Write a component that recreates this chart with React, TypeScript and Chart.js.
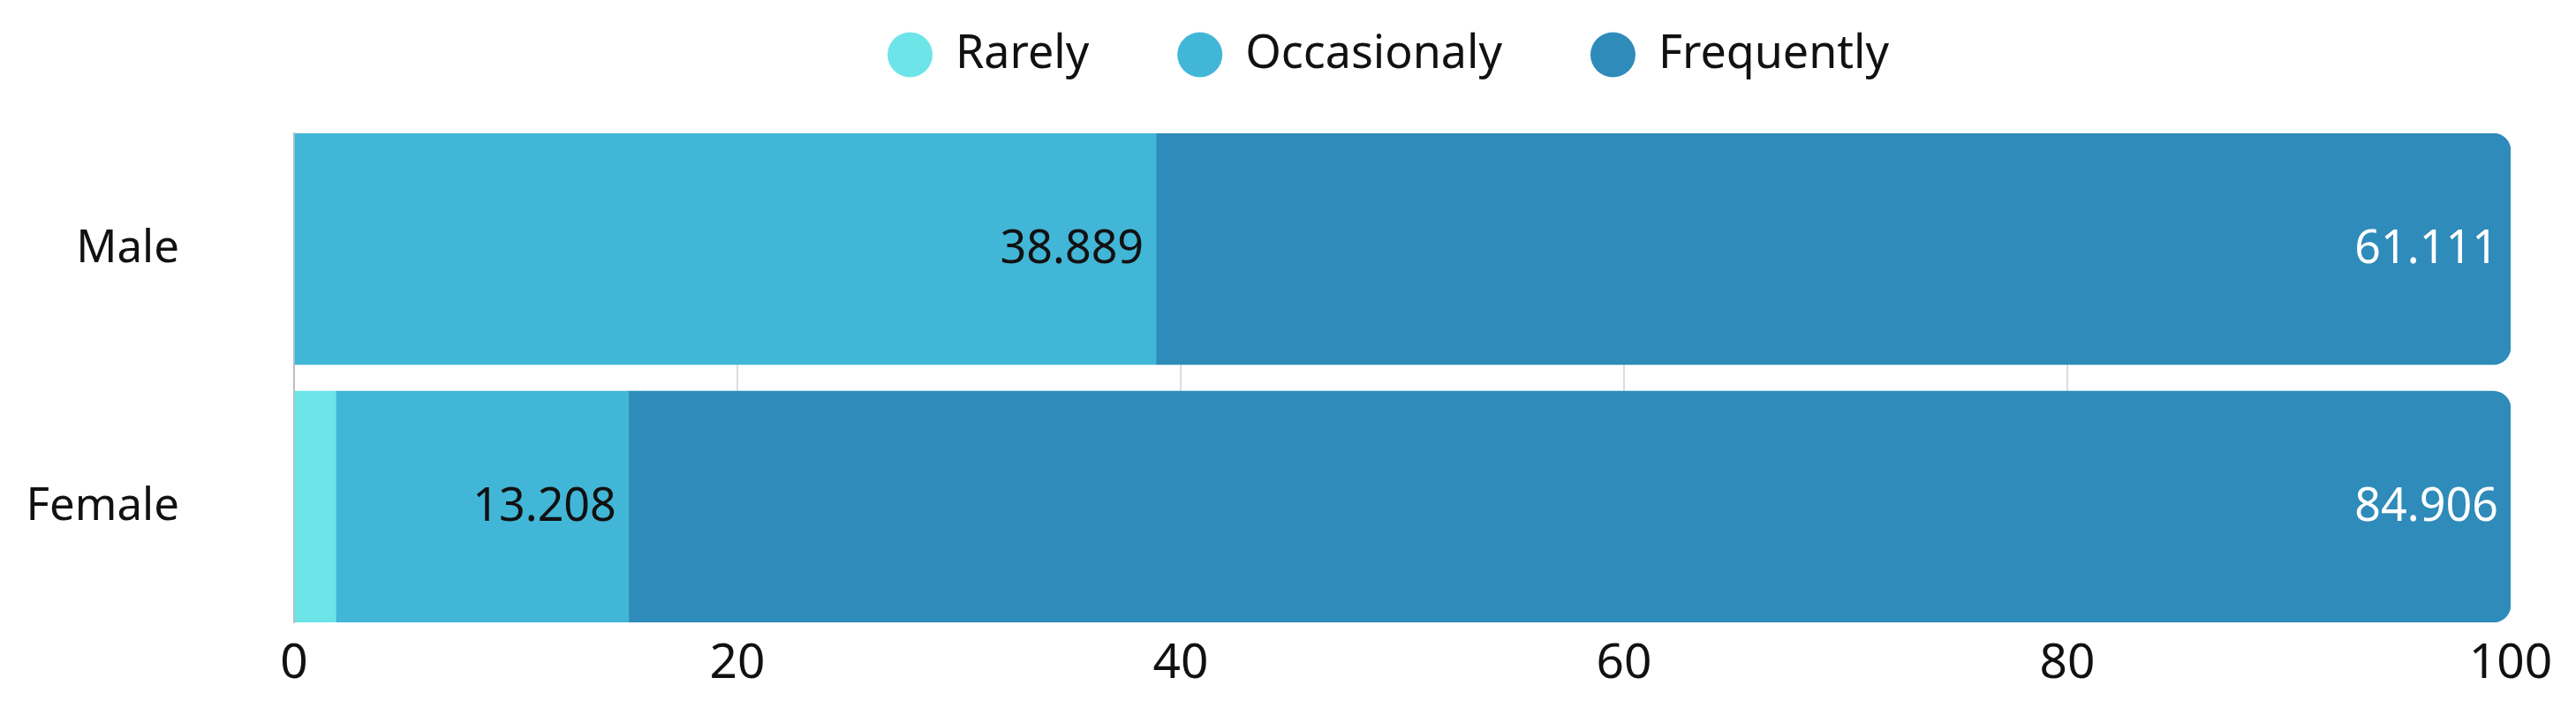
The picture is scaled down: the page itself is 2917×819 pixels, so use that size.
import React, { useEffect, useRef } from 'react';
import { Chart, registerables } from 'chart.js';

Chart.register(...registerables);

const categories = ['Male', 'Female'];
const rarely = [0, 1.886];
const occasionaly = [38.889, 13.208];
const frequently = [61.111, 84.906];
const seriesNames = ['Rarely', 'Occasionaly', 'Frequently'];
const seriesColors = ['#6CE4E8', '#42B6D6', '#2E8BBA'];
const labelColors = ['#111111', '#111111', '#FFFFFF'];
const xTicks = [0, 20, 40, 60, 80, 100];

const FONT = "'Noto Sans', sans-serif";

const valueLabels = {
  id: 'valueLabels',
  afterDatasetsDraw(chart: any) {
    const ctx = chart.ctx;
    ctx.save();
    ctx.font = `52px ${FONT}`;
    ctx.textAlign = 'right';
    ctx.textBaseline = 'middle';
    chart.data.datasets.forEach((ds: any, di: number) => {
      const meta = chart.getDatasetMeta(di);
      meta.data.forEach((el: any, i: number) => {
        const v = ds.data[i].x;
        if (v < 5) return;
        ctx.fillStyle = labelColors[di];
        ctx.fillText(String(v), el.x - 14, el.y + 1);
      });
    });
    ctx.restore();
  },
};

const legendShift = {
  id: 'legendShift',
  afterLayout(chart: any) {
    const l = chart.legend;
    if (l) {
      l.left -= 16;
      l.right -= 16;
      l.top += 3;
      l.bottom += 3;
    }
  },
};

const W = 2901;
const H = 886;

export default function App() {
  const ref = useRef<HTMLCanvasElement>(null);

  useEffect(() => {
    if (!ref.current) return;
    const series = [rarely, occasionaly, frequently];
    const chart = new Chart(ref.current, {
      type: 'bar',
      data: {
        datasets: seriesNames.map((name, k) => ({
          label: name,
          data: series[k].map((v, i) => ({ x: v, y: i })),
          backgroundColor: seriesColors[k],
          borderColor: seriesColors[k],
          borderWidth: 0,
          barThickness: 262,
          borderRadius:
            k === 2
              ? { topLeft: 0, bottomLeft: 0, topRight: 20, bottomRight: 20 }
              : 0,
        })),
      },
      options: {
        indexAxis: 'y',
        animation: false,
        responsive: false,
        layout: { padding: { top: 0, left: 25, right: 66, bottom: 20 } },
        plugins: {
          tooltip: { enabled: false },
          title: {
            display: true,
            text: '',
            weight: 500,
            fullSize: false,
            padding: { top: 0, bottom: 55 },
            font: { size: 1, lineHeight: 1 },
          } as any,
          legend: {
            position: 'top',
            align: 'center',
            fullSize: false,
            labels: {
              usePointStyle: true,
              pointStyle: 'circle',
              pointStyleWidth: 51,
              boxHeight: 36,
              padding: 100,
              color: '#111111',
              font: { size: 52, family: FONT },
            },
          },
        },
        scales: {
          x: {
            type: 'linear',
            position: 'bottom',
            min: 0,
            max: 100,
            stacked: true,
            afterBuildTicks: (s: any) => {
              s.ticks = xTicks.map((v) => ({ value: v }));
            },
            grid: {
              drawTicks: false,
              lineWidth: 2,
              color: (c: any) =>
                c.tick && (c.tick.value === 0 || c.tick.value === 100)
                  ? 'rgba(0,0,0,0)'
                  : '#DCDCDC',
            },
            border: { display: false },
            ticks: {
              padding: 14,
              color: '#111111',
              font: { size: 55, family: FONT },
            },
          },
          y: {
            type: 'linear',
            reverse: true,
            offset: false,
            min: -0.4488,
            max: 1.4488,
            stacked: true,
            afterBuildTicks: (s: any) => {
              s.ticks = categories.map((_, i) => ({ value: i }));
            },
            afterFit: (s: any) => {
              s.width = 300;
              s.paddingTop = 0;
              s.paddingBottom = 0;
            },
            grid: { display: false, drawTicks: false, offset: false },
            border: { display: true, color: '#BDBDBD', width: 2 },
            ticks: {
              padding: 130,
              color: '#111111',
              font: { size: 51, family: FONT },
              callback: (v: any) => categories[v] ?? '',
            },
          },
        },
      } as any,
      plugins: [valueLabels, legendShift],
    });
    return () => chart.destroy();
  }, []);

  return (
    <div style={{ position: 'relative', width: W, height: 811 }}>
      <canvas
        ref={ref}
        width={W}
        height={H}
        style={{ display: 'block', position: 'absolute', left: 0, top: -75 }}
      />
    </div>
  );
}
